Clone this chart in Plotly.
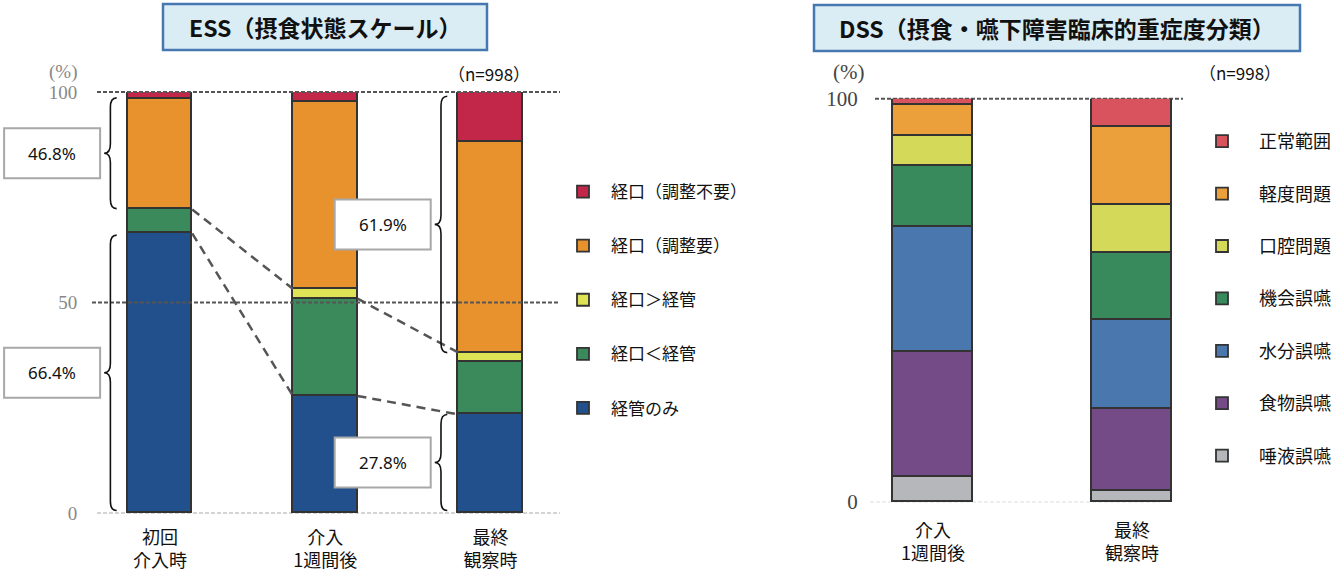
import plotly.graph_objects as go

W, H = 1337, 573

# ---------------- data ----------------
ess_categories = ["初回<br>介入時", "介入<br>1週間後", "最終<br>観察時"]
ess_series = ["経管のみ", "経口＜経管", "経口＞経管", "経口（調整要）", "経口（調整不要）"]
ess_tube_only = [66.4, 27.8, 23.4]
ess_oral_lt_tube = [5.7, 23.1, 12.4]
ess_oral_gt_tube = [0.0, 2.3, 2.3]
ess_oral_adjust = [26.3, 44.4, 50.1]
ess_oral_no_adjust = [1.6, 2.4, 11.8]
ess_colors = ["#21508c", "#3a8a5b", "#dde354", "#e8922e", "#c2274a"]
ess_brace_labels = ["46.8%", "66.4%", "61.9%", "27.8%"]

dss_categories = ["介入<br>1週間後", "最終<br>観察時"]
dss_series = ["唾液誤嚥", "食物誤嚥", "水分誤嚥", "機会誤嚥", "口腔問題", "軽度問題", "正常範囲"]
dss_saliva = [6.2, 2.7]
dss_food = [31.0, 20.5]
dss_water = [31.1, 21.9]
dss_chance = [15.1, 16.8]
dss_oral = [7.4, 11.7]
dss_mild = [7.6, 19.4]
dss_normal = [1.6, 7.0]
dss_colors = ["#b6b7ba", "#744a87", "#4a78ae", "#388a5c", "#d5d95a", "#eca03c", "#d9535f"]

n_label = "（n=998）"
ess_y_ticks = [0, 50, 100]
dss_y_ticks = [0, 100]

# ---------------- layout geometry ----------------
x1dom = [97 / W, 560 / W]
x1rng = [-0.381, 2.42]
y1dom = [1 - 513 / H, 1 - 92 / H]
x2dom = [875 / W, 1183 / W]
x2rng = [-0.2915, 1.256]
y2dom = [1 - 502 / H, 1 - 98.7 / H]
yrng = [0, 100]
ess_w = 0.39
dss_w = 0.40


def lx(v):
    return x1dom[0] + (v - x1rng[0]) / (x1rng[1] - x1rng[0]) * (x1dom[1] - x1dom[0])


def ly(v):
    return y1dom[0] + (v - yrng[0]) / (yrng[1] - yrng[0]) * (y1dom[1] - y1dom[0])


def ry(v):
    return y2dom[0] + (v - yrng[0]) / (yrng[1] - yrng[0]) * (y2dom[1] - y2dom[0])


fig = go.Figure()

ess_x = list(range(len(ess_categories)))
ess_vals = [ess_tube_only, ess_oral_lt_tube, ess_oral_gt_tube, ess_oral_adjust, ess_oral_no_adjust]
for i, (name, vals, col) in enumerate(zip(ess_series, ess_vals, ess_colors)):
    fig.add_trace(go.Bar(
        x=ess_x, y=vals, name=name, width=ess_w, cliponaxis=False,
        marker=dict(color=col, line=dict(color="#333333", width=1.8)),
        legend="legend", legendgroup="ess_" + name, legendrank=100 - i,
        xaxis="x", yaxis="y",
    ))

dss_x = list(range(len(dss_categories)))
dss_vals = [dss_saliva, dss_food, dss_water, dss_chance, dss_oral, dss_mild, dss_normal]
for i, (name, vals, col) in enumerate(zip(dss_series, dss_vals, dss_colors)):
    fig.add_trace(go.Bar(
        x=dss_x, y=vals, name=name, width=dss_w, cliponaxis=False,
        marker=dict(color=col, line=dict(color="#333333", width=1.8)),
        legend="legend2", legendgroup="dss_" + name, legendrank=100 - i,
        xaxis="x2", yaxis="y2",
    ))

# cumulative levels
cum_blue = ess_tube_only
cum_green = [a + b for a, b in zip(ess_tube_only, ess_oral_lt_tube)]
cum_yellow = [a + b for a, b in zip(cum_green, ess_oral_gt_tube)]
hw = ess_w / 2

# dashed connector lines (oral boundary and tube-only boundary)
conn_sets = [
    ([0 + hw, 1 - hw], [cum_yellow[0], cum_yellow[1]]),
    ([1 + hw, 2 - hw], [cum_green[1], cum_yellow[2]]),
    ([0 + hw, 1 - hw], [cum_blue[0], cum_blue[1]]),
    ([1 + hw, 2 - hw], [cum_blue[1], cum_blue[2]]),
]
for xs, ys in conn_sets:
    fig.add_trace(go.Scatter(
        x=xs, y=ys, mode="lines", showlegend=False, hoverinfo="skip",
        line=dict(color="#555555", width=2.5, dash="9px,6px"),
        xaxis="x", yaxis="y",
    ))

shapes = []
annotations = []

# gridlines
shapes.append(dict(type="line", xref="paper", yref="paper", x0=97 / W, x1=560 / W,
                   y0=ly(100), y1=ly(100), line=dict(color="#555555", width=2, dash="4px,2px"), layer="above"))
shapes.append(dict(type="line", xref="paper", yref="paper", x0=92 / W, x1=560 / W,
                   y0=ly(50), y1=ly(50), line=dict(color="#555555", width=2, dash="4px,2px"), layer="above"))
shapes.append(dict(type="line", xref="paper", yref="paper", x0=97 / W, x1=560 / W,
                   y0=ly(0), y1=ly(0), line=dict(color="#aaaaaa", width=1.2, dash="4px,2px"), layer="below"))
shapes.append(dict(type="line", xref="paper", yref="paper", x0=875 / W, x1=1183 / W,
                   y0=ry(100), y1=ry(100), line=dict(color="#555555", width=2, dash="4px,2px"), layer="below"))
shapes.append(dict(type="line", xref="paper", yref="paper", x0=870 / W, x1=1160 / W,
                   y0=ry(0), y1=ry(0), line=dict(color="#dddddd", width=1, dash="4px,2px"), layer="below"))


def brace_path(xs, y0, y1, d, r):
    ym = (y0 + y1) / 2
    xe, xt = xs + d, xs - d
    return (f"M{xe},{y1} Q{xs},{y1} {xs},{y1 - r} L{xs},{ym + r} Q{xs},{ym} {xt},{ym} "
            f"Q{xs},{ym} {xs},{ym - r} L{xs},{y0 + r} Q{xs},{y0} {xe},{y0}")


brace_off = 0.30
bd = 0.038
braces = [
    (0 - brace_off, cum_yellow[0] + 0.2, 100 - ess_oral_no_adjust[0] + 0.2),
    (0 - brace_off, 0.6, cum_blue[0] - 0.4),
    (2 - brace_off, cum_yellow[2], 99.0),
    (2 - brace_off, 0.6, cum_blue[2]),
]
for (bx, y0, y1), lab in zip(braces, ess_brace_labels):
    shapes.append(dict(type="path", xref="x", yref="y", path=brace_path(bx, y0, y1, bd, 2.2),
                       line=dict(color="#111111", width=1.6), layer="above"))
    right = lx(bx - bd) - 4 / W
    left = right - 96 / W
    yc = ly((y0 + y1) / 2)
    shapes.append(dict(type="rect", xref="paper", yref="paper", x0=left, x1=right,
                       y0=yc - 25 / H, y1=yc + 25 / H, fillcolor="white",
                       line=dict(color="#a8a8a8", width=2), layer="above"))
    annotations.append(dict(xref="paper", yref="paper", x=(left + right) / 2, y=yc, text=lab,
                            showarrow=False, xanchor="center", yanchor="middle",
                            font=dict(family="Noto Sans", size=17, color="#111111")))

# title boxes
for (x0, x1, y0, y1, txt, fs) in [
    (163, 487, 4, 50, "ESS（摂食状態スケール）", 23),
    (814, 1300, 5, 51, "DSS（摂食・嚥下障害臨床的重症度分類）", 23),
]:
    shapes.append(dict(type="rect", xref="paper", yref="paper", x0=x0 / W, x1=x1 / W,
                       y0=1 - y1 / H, y1=1 - y0 / H, fillcolor="#dbedf4",
                       line=dict(color="#4677b0", width=2.5), layer="above"))
    annotations.append(dict(xref="paper", yref="paper", x=(x0 + x1) / 2 / W, y=1 - (y0 + y1) / 2 / H,
                            text="<b>" + txt + "</b>", showarrow=False, xanchor="center", yanchor="middle",
                            font=dict(family="Noto Sans CJK JP", size=fs, color="#111111")))

# (%) and n labels
annotations.append(dict(xref="paper", yref="paper", x=63 / W, y=1 - 72 / H, text="(%)", showarrow=False,
                        xanchor="center", yanchor="middle",
                        font=dict(family="Liberation Serif", size=19, color="#888888")))
annotations.append(dict(xref="paper", yref="paper", x=848 / W, y=1 - 72 / H, text="(%)", showarrow=False,
                        xanchor="center", yanchor="middle",
                        font=dict(family="Liberation Serif", size=21, color="#444444")))
annotations.append(dict(xref="paper", yref="paper", x=489 / W, y=1 - 73 / H, text=n_label, showarrow=False,
                        xanchor="center", yanchor="middle",
                        font=dict(family="Noto Sans CJK JP", size=17, color="#111111")))
annotations.append(dict(xref="paper", yref="paper", x=1240 / W, y=1 - 72 / H, text=n_label, showarrow=False,
                        xanchor="center", yanchor="middle",
                        font=dict(family="Noto Sans CJK JP", size=17, color="#111111")))

fig.update_layout(
    width=W, height=H, margin=dict(l=0, r=0, t=0, b=0, autoexpand=False),
    paper_bgcolor="white", plot_bgcolor="white",
    barmode="stack", bargap=0,
    showlegend=True,
    xaxis=dict(domain=x1dom, range=x1rng, tickvals=ess_x, ticktext=ess_categories,
               showgrid=False, zeroline=False, showline=False, ticks="outside", ticklen=8,
               tickcolor="rgba(0,0,0,0)", tickfont=dict(family="Noto Sans CJK JP", size=18, color="#111111"),
               anchor="y", automargin=False),
    yaxis=dict(domain=y1dom, range=yrng, tickvals=ess_y_ticks, showgrid=False, zeroline=False,
               showline=False, ticks="outside", ticklen=15, tickcolor="rgba(0,0,0,0)",
               tickfont=dict(family="Liberation Serif", size=19, color="#888888"), anchor="x",
               automargin=False),
    xaxis2=dict(domain=x2dom, range=x2rng, tickvals=dss_x, ticktext=dss_categories,
                showgrid=False, zeroline=False, showline=False, ticks="outside", ticklen=12,
                tickcolor="rgba(0,0,0,0)", tickfont=dict(family="Noto Sans CJK JP", size=18, color="#111111"),
                anchor="y2", automargin=False),
    yaxis2=dict(domain=y2dom, range=yrng, tickvals=dss_y_ticks, showgrid=False, zeroline=False,
                showline=False, ticks="outside", ticklen=12, tickcolor="rgba(0,0,0,0)",
                tickfont=dict(family="Liberation Serif", size=21, color="#444444"), anchor="x2",
                automargin=False),
    legend=dict(x=555 / W, xanchor="left", y=1 - 174 / H, yanchor="top", traceorder="grouped",
                tracegroupgap=29, itemwidth=46,
                font=dict(family="Noto Sans CJK JP", size=17, color="#111111"),
                bgcolor="rgba(0,0,0,0)", itemclick=False, itemdoubleclick=False),
    legend2=dict(x=1185 / W, xanchor="left", y=1 - 123 / H, yanchor="top", traceorder="grouped",
                 tracegroupgap=26, itemwidth=64,
                 font=dict(family="Noto Sans CJK JP", size=18, color="#111111"),
                 bgcolor="rgba(0,0,0,0)", itemclick=False, itemdoubleclick=False),
    shapes=shapes, annotations=annotations,
)

fig.write_html("out.html")
